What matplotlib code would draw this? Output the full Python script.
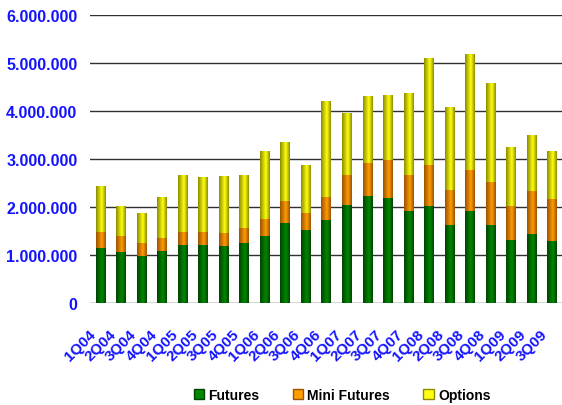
import numpy as np
import matplotlib
matplotlib.use("Agg")
import matplotlib.pyplot as plt
import matplotlib.transforms as mtransforms
from matplotlib.colors import LinearSegmentedColormap
from matplotlib.patches import Patch
from matplotlib.ticker import FuncFormatter

# Quarter labels
quarters = ["1Q04", "2Q04", "3Q04", "4Q04", "1Q05", "2Q05", "3Q05", "4Q05",
            "1Q06", "2Q06", "3Q06", "4Q06", "1Q07", "2Q07", "3Q07", "4Q07",
            "1Q08", "2Q08", "3Q08", "4Q08", "1Q09", "2Q09", "3Q09"]

# Volumes per segment (contracts)
futures = [1150000, 1060000, 980000, 1080000, 1210000, 1210000, 1190000, 1250000,
           1400000, 1670000, 1520000, 1730000, 2040000, 2230000, 2190000, 1920000,
           2020000, 1625000, 1920000, 1625000, 1310000, 1440000, 1290000]
mini_futures = [330000, 340000, 270000, 270000, 270000, 270000, 270000, 310000,
                350000, 460000, 360000, 480000, 630000, 690000, 790000, 750000,
                855000, 725000, 850000, 895000, 710000, 890000, 880000]
options = [940000, 620000, 610000, 840000, 1170000, 1130000, 1170000, 1090000,
           1400000, 1210000, 995000, 1980000, 1290000, 1390000, 1350000, 1705000,
           2225000, 1710000, 2400000, 2060000, 1210000, 1150000, 980000]

series_names = ["Futures", "Mini Futures", "Options"]
# dark edge, bright centre
series_colors = [("#004400", "#008800"), ("#9a5200", "#ff9c00"), ("#8c8c00", "#ffff10")]

blue = "#1414ff"
plt.rcParams["font.family"] = ["Liberation Sans", "DejaVu Sans"]
plt.rcParams["font.weight"] = "bold"

fig = plt.figure(figsize=(5.62, 4.06), dpi=100)
ax = fig.add_axes([90 / 562, 102 / 406, 472 / 562, 288 / 406])

x = np.arange(len(quarters))
bottom = np.zeros(len(quarters))
grad = np.linspace(0, 1, 64)
for name, vals, (dark, bright) in zip(series_names, [futures, mini_futures, options], series_colors):
    vals = np.array(vals, dtype=float)
    bars = ax.bar(x, vals, width=0.44, bottom=bottom, color=bright, zorder=2)
    # cylinder-like shading across each bar
    cmap = LinearSegmentedColormap.from_list(name, [(0, dark), (0.6, bright), (1, dark)])
    for b in bars:
        bx, by = b.get_x(), b.get_y()
        ax.imshow(grad[np.newaxis, :], cmap=cmap, aspect="auto", zorder=3,
                  extent=[bx, bx + b.get_width(), by, by + b.get_height()],
                  interpolation="bilinear")
    bottom += vals

ax.set_xlim(-0.5, len(quarters) - 0.5)
ax.set_ylim(0, 6000000)
ax.set_yticks(np.arange(0, 6000001, 1000000))
ax.yaxis.set_major_formatter(FuncFormatter(lambda v, p: f"{int(v):,}".replace(",", ".")))
ax.grid(axis="y", color="#303030", linewidth=1, zorder=1)
ax.set_axisbelow(True)
for s in ax.spines.values():
    s.set_visible(False)
ax.tick_params(axis="both", length=0, labelcolor=blue)
ax.tick_params(axis="y", pad=9, labelsize=11.5)
ax.set_xticks(x)
ax.set_xticklabels(quarters, rotation=45, ha="right", rotation_mode="anchor")
ax.tick_params(axis="x", pad=10, labelsize=11)
# nudge the slanted labels left and down
shift = mtransforms.ScaledTranslation(-12 / 100, -10 / 100, fig.dpi_scale_trans)
for lab in ax.get_xticklabels():
    lab.set_transform(lab.get_transform() + shift)

handles = [Patch(facecolor=c[1], edgecolor=c[0]) for c in series_colors]
fig.legend(handles, series_names, loc="center", bbox_to_anchor=(342 / 562, 10 / 406),
           ncol=3, frameon=False, fontsize=10, handlelength=0.75, handleheight=0.75,
           handletextpad=0.3, columnspacing=2.4)

fig.savefig("out.png", dpi=100)
